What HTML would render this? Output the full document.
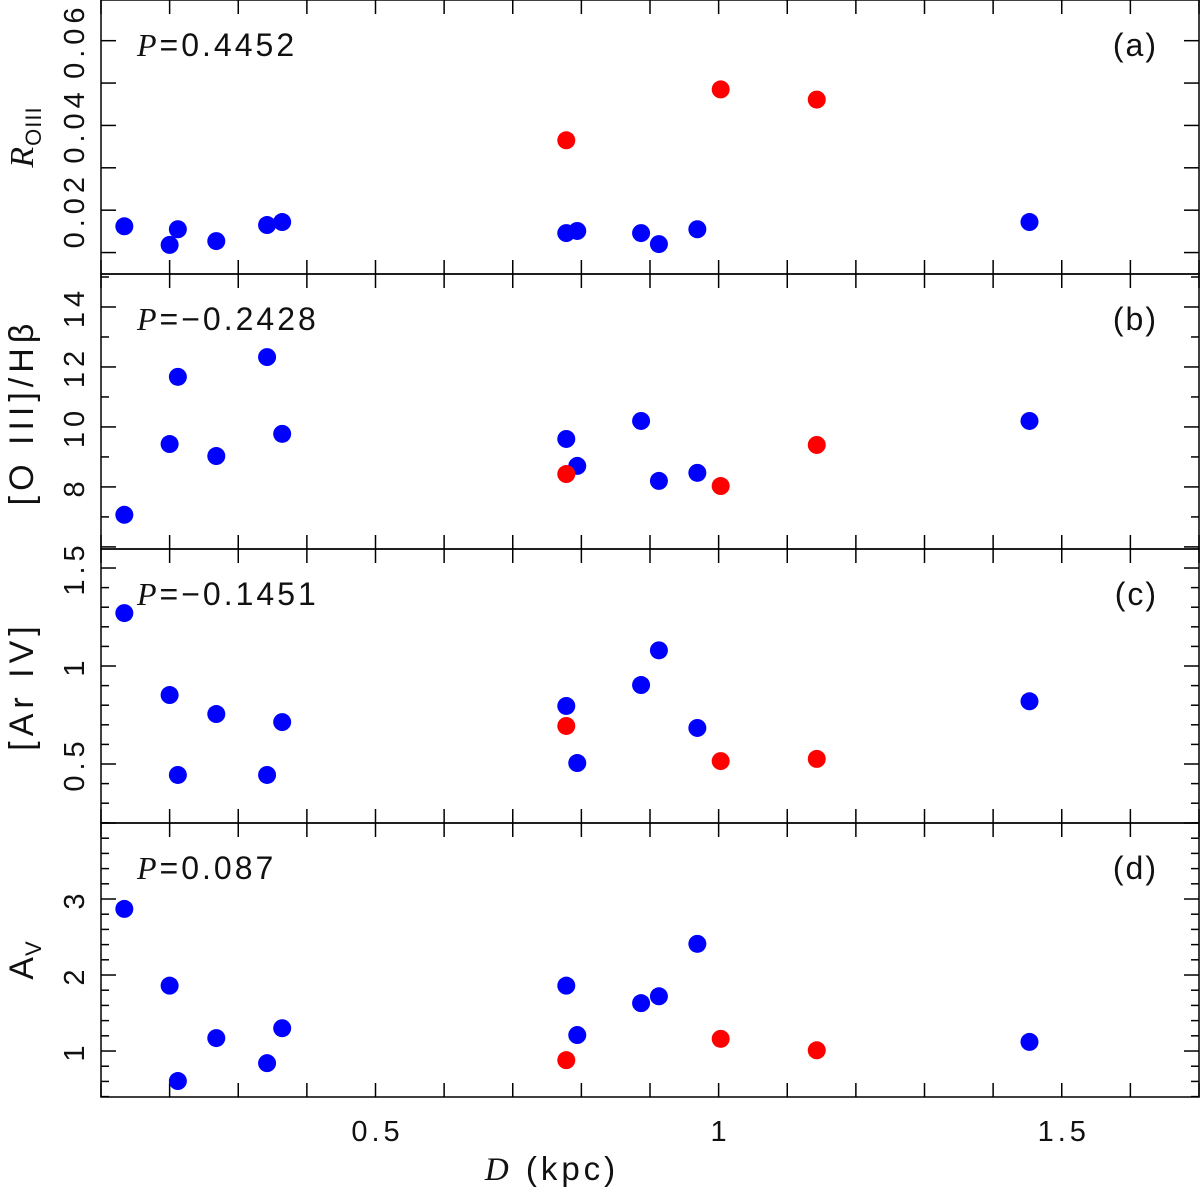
<!DOCTYPE html>
<html><head><meta charset="utf-8"><style>
body{margin:0;background:#fff}
svg text{font-family:"Liberation Sans",sans-serif;fill:#111}
</style></head><body>
<svg id="chart" width="1200" height="1189" xmlns="http://www.w3.org/2000/svg"></svg>
<script>
const blueD=[0.134,0.200,0.212,0.268,0.342,0.364,0.778,0.794,0.887,0.913,0.969,1.453];
const redD=[0.778,1.003,1.143];
const aBlue=[0.0162,0.0118,0.0155,0.0127,0.0165,0.0172,0.0146,0.0151,0.0146,0.0120,0.0155,0.0172];
const aRed=[0.0365,0.0485,0.0461];
const bBlue=[7.07,9.43,11.67,9.03,12.33,9.77,9.6,8.7,10.2,8.2,8.47,10.2];
const bRed=[8.43,8.03,9.4];
const cBlue=[1.27,0.852,0.444,0.755,0.444,0.714,0.796,0.505,0.903,1.08,0.684,0.82];
const cRed=[0.694,0.515,0.526];
const dBlue=[2.87,1.86,0.605,1.17,0.84,1.3,1.86,1.21,1.63,1.72,2.41,1.12];
const dRed=[0.88,1.16,1.01];
const xTicks=[0.5,1,1.5];
const pLabels=["P=0.4452","P=\u22120.2428","P=\u22120.1451","P=0.087"];
const panelTags=["(a)","(b)","(c)","(d)"];

const svg=document.getElementById('chart');
const NS='http://www.w3.org/2000/svg';
const X0=101,X1=1199,xmin=0.1,xmax=1.7;
const xs=v=>X0+(v-xmin)/(xmax-xmin)*(X1-X0);
function mk(t,a,p){const e=document.createElementNS(NS,t);for(const k in a)e.setAttribute(k,a[k]);(p||svg).appendChild(e);return e;}
const panels=[
 {top:0,bot:274,ymin:0.00494,ymax:0.0696,minor:0.01,major:0.01,labels:[0.02,0.04,0.06],fmt:v=>v.toFixed(2),blue:aBlue,red:aRed,name:'r-oiii'},
 {top:274,bot:549,ymin:5.93,ymax:15.1,minor:1,major:2,labels:[8,10,12,14],fmt:v=>String(v),blue:bBlue,red:bRed,name:'oiii-hbeta'},
 {top:549,bot:823,ymin:0.199,ymax:1.597,minor:0.1,major:0.5,labels:[0.5,1,1.5],fmt:v=>String(v),blue:cBlue,red:cRed,name:'ar-iv'},
 {top:823,bot:1097,ymin:0.395,ymax:4,minor:0.2,major:1,labels:[1,2,3],fmt:v=>String(v),blue:dBlue,red:dRed,name:'av'}
];
panels.forEach((P,i)=>{
 const g=mk('g',{});
 
 
 const ys=v=>P.bot-(v-P.ymin)/(P.ymax-P.ymin)*(P.bot-P.top);
 const r=mk('rect',{x:X0,y:P.top,width:X1-X0,height:P.bot-P.top,fill:'none',stroke:'#000','stroke-width':1.5},g);
 
 
 for(let k=Math.ceil(P.ymin/P.minor);k*P.minor<=P.ymax;k++){
  const v=k*P.minor,y=ys(v);
  const isMaj=Math.abs(v/P.major-Math.round(v/P.major))<1e-6;
  const L=isMaj?15:8;
  mk('line',{x1:X0,x2:X0+L,y1:y,y2:y,stroke:'#000','stroke-width':1.5},g);
  mk('line',{x1:X1,x2:X1-L,y1:y,y2:y,stroke:'#000','stroke-width':1.5},g);
 }
 P.labels.forEach(v=>{
  const y=ys(v);
  const t=mk('text',{x:81,y:y+3,'font-size':29,'letter-spacing':5,'text-anchor':'middle',transform:`rotate(-90 81 ${y})`},g);
  t.textContent=P.fmt(v);
  
  
 });
 for(let k=1;k<=17;k++){
  const x=xs(k/10);
  mk('line',{x1:x,x2:x,y1:P.bot,y2:P.bot-14,stroke:'#000','stroke-width':1.5},g);
  mk('line',{x1:x,x2:x,y1:P.top,y2:P.top+14,stroke:'#000','stroke-width':1.5},g);
 }
 P.blue.forEach((v,j)=>{
  const c=mk('circle',{cx:xs(blueD[j]),cy:ys(v),r:9,fill:'#0000ff'},g);
  
  
 });
 P.red.forEach((v,j)=>{
  const c=mk('circle',{cx:xs(redD[j]),cy:ys(v),r:9,fill:'#ff0000'},g);
  
  
 });
 const p=mk('text',{x:137,y:P.top+56,'font-size':32,'letter-spacing':3},g);
 const parts=pLabels[i].split('=');
 const it=mk('tspan',{'font-style':'italic','font-family':'Liberation Serif, serif'},p);it.textContent=parts[0];
 const rest=mk('tspan',{},p);rest.textContent='='+parts[1];
 
 
 const tg=mk('text',{x:1158,y:P.top+56,'font-size':32,'letter-spacing':2,'text-anchor':'end'},g);
 tg.textContent=panelTags[i];
 
 
});
const titles=[[137,'R',true,'OIII'],[412,'[O III]/Hβ'],[686,'[Ar IV]'],[960,'A','','V']];
titles.forEach(t=>{
 const y=t[0];
 const e=mk('text',{x:33,y:y,'font-size':34,'letter-spacing':t.length>2?1:5,'text-anchor':'middle',transform:`rotate(-90 33 ${y})`});
 if(t.length>2){
  const a=mk('tspan',t[2]?{'font-style':'italic','font-family':'Liberation Serif, serif'}:{},e);a.textContent=t[1];
  const s=mk('tspan',{'font-size':22,dy:8},e);s.textContent=t[3];
 } else e.textContent=t[1];
 
 
});
xTicks.forEach(v=>{
 const t=mk('text',{x:xs(v)+2,y:1141,'font-size':29,'letter-spacing':4,'text-anchor':'middle'});
 t.textContent=String(v);
 
 
});
const xt=mk('text',{x:552,y:1180,'font-size':33,'letter-spacing':4,'text-anchor':'middle'});
const d=mk('tspan',{'font-style':'italic','font-family':'Liberation Serif, serif'},xt);d.textContent='D';
const k=mk('tspan',{},xt);k.textContent=' (kpc)';


</script>
</body></html>
